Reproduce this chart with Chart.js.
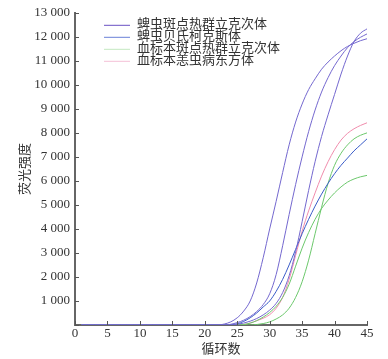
<!DOCTYPE html>
<html>
<head>
<meta charset="utf-8">
<script src="https://cdn.jsdelivr.net/npm/chart.js@4"></script>
<style>
  html, body { margin: 0; padding: 0; background: #fff; }
  #wrap { width: 388px; height: 359px; }
</style>
</head>
<body>
<div id="wrap"><canvas id="c"></canvas></div>
<script>
// cycle numbers (x) and fluorescence readings per curve
const cycles = Array.from({ length: 45 }, (_, i) => i + 1);

const legendNames = ['蜱虫斑点热群立克次体', '蜱虫贝氏柯克斯体', '血标本斑点热群立克次体', '血标本恙虫病东方体'];

// purple: tick spotted fever group rickettsia (3 replicates)
const purpleA = [0,0,0,0,0,0,0,0,0,0,0,0,0,0,0,0,0,0,0,0,0,0,40,130,300,580,1000,1750,2800,4000,5150,6350,7500,8450,9200,9800,10250,10650,10950,11200,11420,11600,11730,11840,11920];
const purpleB = [0,0,0,0,0,0,0,0,0,0,0,0,0,0,0,0,0,0,0,0,0,0,0,30,100,200,350,560,850,1300,2100,3300,4600,5850,7000,8050,8950,9700,10300,10800,11200,11550,11800,11980,12120];
const purpleC = [0,0,0,0,0,0,0,0,0,0,0,0,0,0,0,0,0,0,0,0,0,0,0,0,30,80,160,270,420,620,900,1350,2050,3050,4300,5600,6800,7850,8750,9600,10450,11200,11800,12150,12330];
// blue: tick Coxiella burnetii
const blueA   = [0,0,0,0,0,0,0,0,0,0,0,0,0,0,0,0,0,0,0,0,0,0,0,10,50,150,300,500,750,1000,1400,1900,2500,3150,3800,4400,4950,5450,5900,6300,6650,6950,7250,7500,7750];
// green: blood spotted fever group rickettsia (2 replicates)
const greenA  = [0,0,0,0,0,0,0,0,0,0,0,0,0,0,0,0,0,0,0,0,0,0,0,0,0,20,80,180,330,520,780,1150,1700,2450,3200,3850,4400,4850,5200,5500,5750,5950,6080,6170,6230];
const greenB  = [0,0,0,0,0,0,0,0,0,0,0,0,0,0,0,0,0,0,0,0,0,0,0,0,0,0,0,20,60,130,250,420,700,1150,1800,2700,3800,4900,5900,6650,7150,7500,7750,7900,8000];
// pink: blood Orientia tsutsugamushi
const pinkA   = [0,0,0,0,0,0,0,0,0,0,0,0,0,0,0,0,0,0,0,0,0,0,0,0,0,20,80,180,280,430,700,1150,1900,2900,3900,4750,5500,6200,6800,7300,7700,7980,8170,8310,8420];

const yTicks = [0,1000,2000,3000,4000,5000,6000,7000,8000,9000,10000,11000,12000,13000];
const xTicks = [0,5,10,15,20,25,30,35,40,45];

const lineColors   = ['#7468cf', '#3a5cc8', '#6cc86c', '#f08cac'];
const legendColors = ['#6a50c4', '#6a80d8', '#c4e8c0', '#f4c0d6'];

const series = [
  { values: purpleA, cat: 0 },
  { values: purpleB, cat: 0 },
  { values: purpleC, cat: 0 },
  { values: blueA,   cat: 1 },
  { values: greenA,  cat: 2 },
  { values: greenB,  cat: 2 },
  { values: pinkA,   cat: 3 },
];

const serif = "'Liberation Serif', 'Noto Sans CJK SC', serif";

const fmt = v => {
  if (v === 0) return '';
  const s = String(v);
  return s.length > 3 ? s.slice(0, -3) + ' ' + s.slice(-3) : s;
};

// inward tick marks
const innerTicks = {
  id: 'innerTicks',
  afterDraw(chart) {
    const { ctx, chartArea: a, scales: { x, y } } = chart;
    ctx.save();
    ctx.strokeStyle = '#555';
    ctx.lineWidth = 1;
    ctx.beginPath();
    xTicks.forEach(t => {
      const px = Math.round(x.getPixelForValue(t)) + 0.5;
      ctx.moveTo(px, a.bottom);
      ctx.lineTo(px, a.bottom - 4);
    });
    yTicks.forEach(t => {
      const py = Math.round(y.getPixelForValue(t)) + 0.5;
      ctx.moveTo(a.left, py);
      ctx.lineTo(a.left + 4, py);
    });
    ctx.stroke();
    ctx.restore();
  }
};

// legend drawn inside the plot, top-left
const innerLegend = {
  id: 'innerLegend',
  afterDraw(chart) {
    const { ctx, chartArea: a } = chart;
    ctx.save();
    ctx.font = "13px " + serif;
    ctx.textBaseline = 'middle';
    ctx.fillStyle = '#333';
    legendNames.forEach((name, i) => {
      const yy = a.top + 12 + i * 12;
      ctx.strokeStyle = legendColors[i];
      ctx.lineWidth = 1;
      ctx.beginPath();
      ctx.moveTo(a.left + 29, yy + 0.5);
      ctx.lineTo(a.left + 55, yy + 0.5);
      ctx.stroke();
      ctx.fillText(name, a.left + 62, yy);
    });
    ctx.restore();
  }
};

new Chart(document.getElementById('c'), {
  type: 'line',
  data: {
    datasets: series.map(s => ({
      data: s.values.map((v, i) => ({ x: cycles[i], y: v })),
      borderColor: lineColors[s.cat],
      borderWidth: 1,
      pointRadius: 0,
      cubicInterpolationMode: 'monotone',
      fill: false,
    })),
  },
  options: {
    responsive: true,
    maintainAspectRatio: false,
    animation: false,
    layout: { padding: { top: 10, right: 21, left: 0, bottom: 0 } },
    plugins: { legend: { display: false }, tooltip: { enabled: false } },
    scales: {
      x: {
        type: 'linear',
        min: 0, max: 45,
        afterBuildTicks: s => { s.ticks = xTicks.map(v => ({ value: v })); },
        afterFit: s => { s.height = 34; },
        grid: { display: false, drawTicks: false },
        border: { color: '#666', width: 2 },
        ticks: { color: '#333', font: { family: serif, size: 13 }, padding: 1, maxRotation: 0 },
        title: { display: true, text: '循环数', color: '#333', font: { family: serif, size: 13 }, padding: { top: 0, bottom: 2 } },
      },
      y: {
        min: 0, max: 13000,
        afterBuildTicks: s => { s.ticks = yTicks.map(v => ({ value: v })); },
        afterFit: s => { s.width = 75; },
        grid: { display: false, drawTicks: false },
        border: { color: '#666', width: 2 },
        ticks: { color: '#333', font: { family: serif, size: 13 }, padding: 5, callback: v => fmt(v) },
        title: { display: true, text: '荧光强度', color: '#333', font: { family: serif, size: 13 }, padding: { top: 18, bottom: 0 } },
      },
    },
  },
  plugins: [innerTicks, innerLegend],
});
</script>
</body>
</html>
